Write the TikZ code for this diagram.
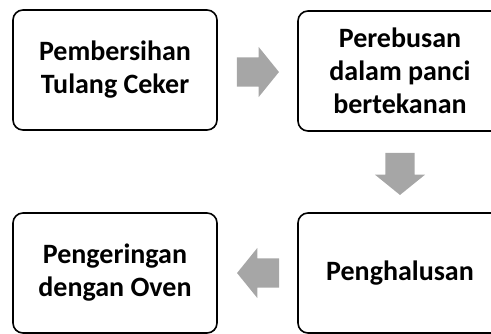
\documentclass[tikz,border=0pt]{standalone}
\usepackage{fontspec}
\setmainfont{Carlito}
\usetikzlibrary{shapes.arrows}

\tikzset{%
  % Specifications for style of nodes:
         stage/.style = {rectangle, rounded corners=10pt, draw=black, line width=1.6pt, minimum width=204pt, minimum height=120pt, align=center, font=\fontsize{28}{33}\selectfont\bfseries},
         flow/.style  = {single arrow, fill=black!35, draw=none, inner sep=14.5pt, single arrow head extend=10.5pt, single arrow tip angle=102, minimum height=42pt},
}

\begin{document}
\begin{tikzpicture}[x=1pt, y=-1pt]
    \useasboundingbox (0,0) rectangle (491,333);
    % Draw nodes
    \node (clean)  [stage] at (115,70)  {Pembersihan\\Tulang Ceker};
    \node (boil)   [stage] at (400,71)  {Perebusan\\dalam panci\\bertekanan};
    \node (grind)  [stage] at (400,273) {Penghalusan};
    \node (dry)    [stage] at (115,273) {Pengeringan\\dengan Oven};

    % Draw arrows
    \node (a1) [flow] at (252,72)  {};
    \node (a2) [flow, shape border rotate=270] at (400,168) {};
    \node (a3) [flow, shape border rotate=180] at (264,273) {};

\end{tikzpicture}
\end{document}
